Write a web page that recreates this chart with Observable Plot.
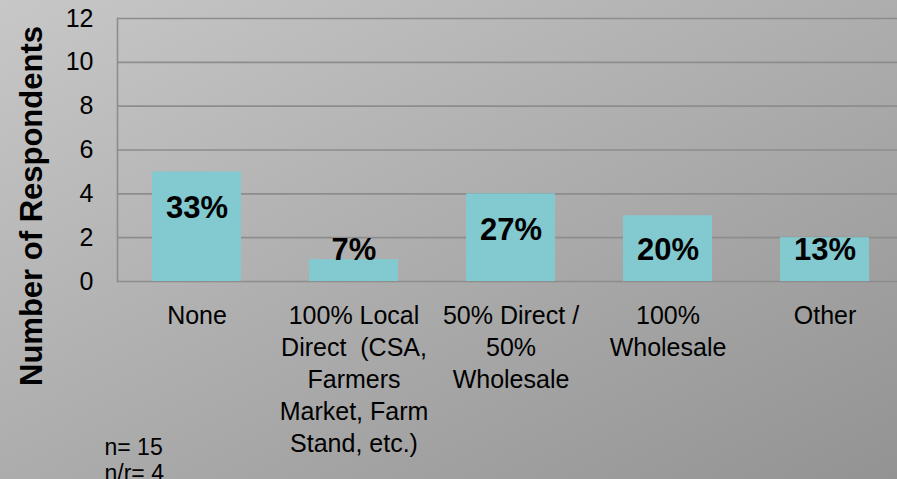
<!DOCTYPE html>
<html>
<head>
<meta charset="utf-8">
<script src="https://cdn.jsdelivr.net/npm/d3@7"></script>
<script src="https://cdn.jsdelivr.net/npm/@observablehq/plot@0.6"></script>
<style>
  html, body { margin: 0; padding: 0; }
  body {
    width: 897px; height: 479px; overflow: hidden;
    background: linear-gradient(153deg, #c7c7c7 0%, #939393 100%);
    font-family: "Liberation Sans", Arial, sans-serif;
  }
  #chart svg { display: block; background: transparent; overflow: visible; }
  #chart svg text { white-space: pre; }
</style>
</head>
<body>
<div id="chart"></div>
<script>
const categories = [
  "None",
  "100% Local\nDirect  (CSA,\nFarmers\nMarket, Farm\nStand, etc.)",
  "50% Direct /\n50%\nWholesale",
  "100%\nWholesale",
  "Other"
];
const counts = [5, 1, 4, 3, 2];
const percentLabels = ["33%", "7%", "27%", "20%", "13%"];
const yTicks = [0, 2, 4, 6, 8, 10, 12];
const notes = ["n= 15\nn/r= 4"];

const data = categories.map((c, i) => ({
  category: c,
  count: counts[i],
  pct: percentLabels[i],
  labelY: Math.max(counts[i] - 1.65, 1.45)
}));

const font = "Liberation Sans, Arial, sans-serif";
const gridColor = "#8d8d8d";

const plot = Plot.plot({
  width: 897,
  height: 479,
  marginLeft: 117,
  marginRight: -12,
  marginTop: 18,
  marginBottom: 198,
  style: { background: "transparent", fontFamily: font, color: "#000", overflow: "visible" },
  x: { domain: categories, range: [117, 904.5], paddingInner: 0.43, paddingOuter: 0.215, axis: null },
  y: { domain: [0, 12], axis: null },
  marks: [
    Plot.ruleY(yTicks, { stroke: gridColor, strokeWidth: 1.6 }),
    Plot.frame({ anchor: "left", stroke: gridColor, strokeWidth: 1.6 }),
    Plot.axisY({ ticks: yTicks, tickSize: 0, tickPadding: 24, fontSize: 25, label: null, fill: "#000" }),
    Plot.barY(data, { x: "category", y: "count", fill: "#83c9d0" }),
    Plot.text(data, { x: "category", y: "labelY", text: "pct", fontSize: 31, fontWeight: "bold", fill: "#000", lineAnchor: "middle" }),
    Plot.text(data, { x: "category", y: () => 0, text: "category", fontSize: 25, lineHeight: 32 / 25, lineAnchor: "top", dy: 20, fill: "#000" }),
    Plot.text(["Number of Respondents"], { frameAnchor: "left", textAnchor: "middle", lineAnchor: "middle", dx: -85, dy: 56, rotate: -90, fontSize: 31, fontWeight: "bold", fill: "#000", text: d => d }),
    Plot.text(notes, { frameAnchor: "bottom-left", text: d => d, textAnchor: "start", lineAnchor: "top", lineHeight: 26 / 23, dx: -13, dy: 155, fontSize: 23, fill: "#000" })
  ]
});

document.getElementById("chart").appendChild(plot);
</script>
</body>
</html>
